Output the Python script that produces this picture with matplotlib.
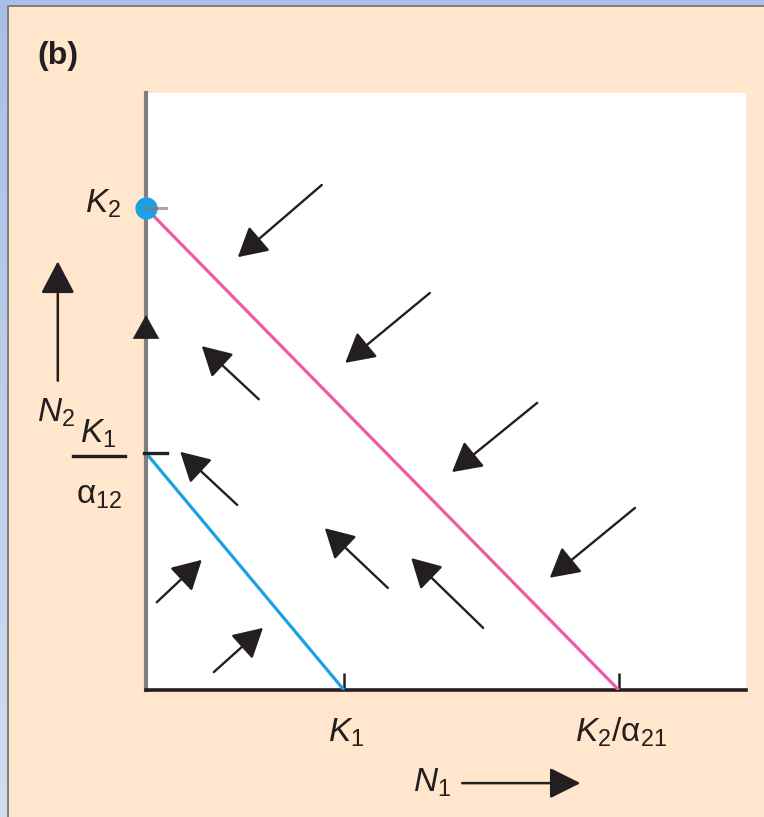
import matplotlib
matplotlib.use("Agg")
import matplotlib.pyplot as plt
import numpy as np
from matplotlib.patches import Rectangle
from matplotlib.lines import Line2D
from matplotlib.colors import LinearSegmentedColormap

plt.rcParams['font.family'] = ['Liberation Sans', 'DejaVu Sans']
plt.rcParams['mathtext.fontset'] = 'custom'
plt.rcParams['mathtext.it'] = 'Liberation Sans:italic'
plt.rcParams['mathtext.rm'] = 'Liberation Sans'
plt.rcParams['mathtext.bf'] = 'Liberation Sans:bold'

# ---- data (axis units 0..100) ----
K1 = 33.0
K2_over_a21 = 78.8
K1_over_a12 = 39.7
K2 = 80.7

# isoclines: (x-values, y-values)
iso_N1_x = [0, K1]
iso_N1_y = [K1_over_a12, 0]
iso_N2_x = [0, K2_over_a21]
iso_N2_y = [K2, 0]

# trajectory arrows: tail x, tail y, head x, head y
arrow_tail_x = [29.3, 47.3, 65.2, 81.5, 18.8, 15.2, 40.3, 56.2, 1.8, 11.3]
arrow_tail_y = [84.6, 66.5, 48.1, 30.5, 48.7, 31.0, 17.1, 10.4, 14.7, 3.0]
arrow_head_x = [15.3, 33.2, 51.0, 67.3, 9.3, 5.7, 29.8, 44.2, 9.3, 19.5]
arrow_head_y = [72.5, 54.8, 36.5, 18.8, 57.6, 39.9, 27.1, 22.1, 21.8, 10.4]

# arrow head on the N2 axis
axis_arrow_y = [59.0, 62.8]

x_tick_vals = [K1, K2_over_a21]
x_tick_labels = [r'$K_1$', r'$K_2/\mathrm{\alpha}_{21}$']

W, H = 764, 817
fig = plt.figure(figsize=(W / 100, H / 100), dpi=100)
fig.patch.set_facecolor('#FFE6CC')

# frame decoration (blue band + gray line)
grad_ax = fig.add_axes([0, 0, 7 / W, 1])
grad = np.linspace(0, 1, 256).reshape(-1, 1)
cm = LinearSegmentedColormap.from_list('b', ['#D2DDF1', '#A9BFE7'])
grad_ax.imshow(grad, aspect='auto', cmap=cm, origin='lower')
grad_ax.axis('off')
fig.patches.append(Rectangle((0, 1 - 5 / H), 1, 5 / H, transform=fig.transFigure,
                             facecolor='#A9BFE7', edgecolor='none', zorder=1))
fig.patches.append(Rectangle((7 / W, 0), 2 / W, 1 - 5 / H, transform=fig.transFigure,
                             facecolor='#7F7F7F', edgecolor='none', zorder=2))
fig.patches.append(Rectangle((7 / W, 1 - 7 / H), 1 - 7 / W, 2 / H, transform=fig.transFigure,
                             facecolor='#7F7F7F', edgecolor='none', zorder=2))

ax = fig.add_axes([146 / W, 1 - 690 / H, 600 / W, 597 / H])
ax.set_facecolor('white')
ax.set_xlim(0, 100)
ax.set_ylim(0, 100)

for s in ['top', 'right']:
    ax.spines[s].set_visible(False)
ax.spines['left'].set_color('#808080')
ax.spines['left'].set_linewidth(3.0)
ax.spines['bottom'].set_color('#231F20')
ax.spines['bottom'].set_linewidth(2.6)

# ticks
ax.set_xticks(x_tick_vals)
ax.set_xticklabels([])
ax.tick_params(axis='x', direction='in', length=12, width=1.8, color='#231F20')
ax.set_yticks([])
# y tick marks drawn as short lines (K1/a12 black, K2 gray)
ax.add_line(Line2D([-0.3, 3.5], [K1_over_a12, K1_over_a12], color='#231F20', lw=2.4,
                   clip_on=False, zorder=4))
ax.add_line(Line2D([0, 3.4], [K2, K2], color='#A6A6A6', lw=2.2,
                   clip_on=False, zorder=4))

# isoclines
ax.plot(iso_N1_x, iso_N1_y, color='#1BA1E2', lw=2.3, solid_capstyle='butt', zorder=3)
ax.plot(iso_N2_x, iso_N2_y, color='#EE5AA5', lw=2.3, solid_capstyle='butt', zorder=3)

# stable point
ax.plot([0], [K2], 'o', color='#1BA1E2', markersize=15, clip_on=False, zorder=5)
ax.add_line(Line2D([0, 1.6], [K2, K2], color='#6E7F8C', lw=2.2, clip_on=False, zorder=6))

# trajectory arrows
for tx, ty, hx, hy in zip(arrow_tail_x, arrow_tail_y, arrow_head_x, arrow_head_y):
    ax.annotate('', xy=(hx, hy), xytext=(tx, ty),
                arrowprops=dict(arrowstyle='-|>,head_length=18,head_width=10',
                                mutation_scale=1, color='#231F20', lw=1.7,
                                shrinkA=0, shrinkB=0))

# arrow head on y axis
ax.annotate('', xy=(0, axis_arrow_y[1]), xytext=(0, axis_arrow_y[0]),
            arrowprops=dict(arrowstyle='-|>,head_length=17,head_width=9.5',
                            mutation_scale=1, color='#231F20', lw=0.1,
                            shrinkA=0, shrinkB=0), annotation_clip=False)

fs = 24
# x tick labels
for xv, lab in zip(x_tick_vals, x_tick_labels):
    ax.text(xv + 0.3, -8.7, lab, ha='center', va='baseline', fontsize=fs,
            color='#231F20', clip_on=False)

# y labels
ax.text(-4.2, 79.9, r'$K_2$', ha='right', va='baseline', fontsize=fs, color='#231F20')
ax.text(-8.0, 41.5, r'$K_1$', ha='center', va='baseline', fontsize=fs, color='#231F20')
ax.add_line(Line2D([-12.2, -3.5], [39.2, 39.2], color='#231F20', lw=2.4, clip_on=False))
ax.text(-7.8, 35.2, r'$\mathrm{\alpha}_{12}$', ha='center', va='top', fontsize=fs,
        color='#231F20')

# axis names with arrows
ax.text(-15.0, 44.9, r'$N_2$', ha='center', va='baseline', fontsize=fs, color='#231F20')
ax.annotate('', xy=(-14.7, 71.8), xytext=(-14.7, 51.8), xycoords='data',
            arrowprops=dict(arrowstyle='-|>,head_length=20,head_width=10.5',
                            mutation_scale=1, color='#231F20', lw=1.8,
                            shrinkA=0, shrinkB=0), annotation_clip=False)
ax.text(47.7, -17.1, r'$N_1$', ha='center', va='baseline', fontsize=fs, color='#231F20')
ax.annotate('', xy=(72.4, -15.6), xytext=(52.7, -15.6), xycoords='data',
            arrowprops=dict(arrowstyle='-|>,head_length=19,head_width=9.5',
                            mutation_scale=1, color='#231F20', lw=1.8,
                            shrinkA=0, shrinkB=0), annotation_clip=False)

fig.text(37 / W, 1 - 64 / H, '(b)', ha='left', va='baseline', fontsize=23,
         fontweight='bold', color='#231F20')

fig.savefig('out.png', dpi=100, facecolor=fig.get_facecolor())
